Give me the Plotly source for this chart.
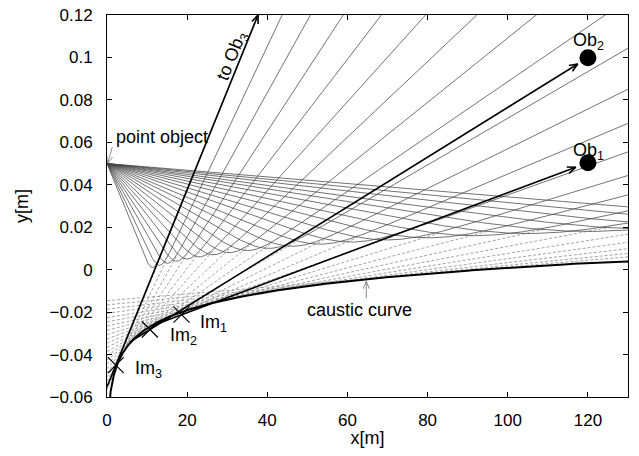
import numpy as np
import plotly.graph_objects as go

# ---------------- data ----------------
object_x, object_y = 0.0, 0.05                     # point object
# turning heights (lowest point) of the drawn rays [m]
ray_turn_heights = [0.001, 0.002, 0.003, 0.004, 0.005, 0.006, 0.007, 0.008,
                    0.009, 0.010, 0.011, 0.012, 0.013, 0.014, 0.015, 0.016,
                    0.017, 0.018, 0.019, 0.020, 0.021, 0.022]
# refraction layer model constants (fitted to the picture)
layer_h = 0.0031
layer_logA = -10.4

ob_names = ["Ob<sub>1</sub>", "Ob<sub>2</sub>"]
ob_x = [120.0, 120.0]
ob_y = [0.0504, 0.0999]
im_names = ["Im<sub>1</sub>", "Im<sub>2</sub>", "Im<sub>3</sub>"]
im_x = [18.6, 10.7, 2.2]
im_y = [-0.0212, -0.0282, -0.045]
ob3_top = (37.7, 0.12)

x_ticks = [0, 20, 40, 60, 80, 100, 120]
y_ticks = [-0.06, -0.04, -0.02, 0, 0.02, 0.04, 0.06, 0.08, 0.1, 0.12]

# ---------------- geometry helpers ----------------
XMIN, XMAX, YMIN, YMAX = 0, 130, -0.06, 0.12
PW, PH = 521, 382
PXX = PW / (XMAX - XMIN)
PXY = PH / (YMAX - YMIN)
A = np.exp(layer_logA)
LN2 = np.log(2.0)


def F(u):
    w = np.sqrt(1.0 - np.exp(-u))
    return u + 2.0 * np.log1p(w)


def head(tipx, tipy, fromx, fromy, L=9.0, ang=22.0):
    dx = (tipx - fromx) * PXX
    dy = (tipy - fromy) * PXY
    th = np.arctan2(dy, dx)
    xs, ys = [], []
    for sgn in (1, -1):
        a = th + np.pi + sgn * np.radians(ang)
        xs.append(tipx + L * np.cos(a) / PXX)
        ys.append(tipy + L * np.sin(a) / PXY)
    return [xs[0], tipx, xs[1]], [ys[0], tipy, ys[1]]


fig = go.Figure()

# ---------------- rays and their backward extensions ----------------
rx, ry, dxs, dys = [], [], [], []
t = np.linspace(0, 1, 300)
for ym in ray_turn_heights:
    s = np.sqrt(A) * np.exp(-ym / (2 * layer_h))
    U0 = (object_y - ym) / layer_h
    xt = layer_h / s * F(U0)
    ud = U0 * t ** 2
    xd = xt - layer_h / s * F(ud)
    yd = ym + layer_h * ud
    Um = (0.125 - ym) / layer_h
    ua = Um * t ** 2
    xa = xt + layer_h / s * F(ua)
    ya = ym + layer_h * ua
    x = np.concatenate([xd[::-1], xa[1:]])
    y = np.concatenate([yd[::-1], ya[1:]])
    keep = x <= 140
    rx += list(x[keep]) + [None]
    ry += list(y[keep]) + [None]
    b = ym - 2 * layer_h * LN2 - layer_h * F(U0)
    xe = min(xt + layer_h / s * (2 * LN2 + 1), 131)
    dxs += [0, xe, None]
    dys += [b, b + s * xe, None]

fig.add_trace(go.Scatter(x=dxs, y=dys, mode="lines",
                         line=dict(color="#8c8c8c", width=0.8, dash="3px,2px"),
                         hoverinfo="skip", showlegend=False))
fig.add_trace(go.Scatter(x=rx, y=ry, mode="lines",
                         line=dict(color="#444444", width=0.75),
                         hoverinfo="skip", showlegend=False))

# ---------------- caustic (envelope of the extensions) ----------------
c = np.linspace(-0.012, 0.028, 500)
sc = np.sqrt(A) * np.exp(-c / (2 * layer_h))
U0c = (object_y - c) / layer_h
w0 = np.sqrt(1 - np.exp(-U0c))
bc = c - 2 * layer_h * LN2 - layer_h * F(U0c)
xc = (1 + 1 / w0) * 2 * layer_h / sc
yc = bc + sc * xc
fig.add_trace(go.Scatter(x=xc, y=yc, mode="lines", line=dict(color="black", width=2),
                         hoverinfo="skip", showlegend=False))

# ---------------- lines to observers ----------------
def ob_line(ix, iy, ox, oy, back, gap_px):
    sl = (oy - iy) / (ox - ix)
    x0 = ix - back
    y0 = iy - back * sl
    dpx = np.hypot((ox - ix) * PXX, (oy - iy) * PXY)
    f = 1 - gap_px / dpx
    tx = ix + (ox - ix) * f
    ty = iy + (oy - iy) * f
    hx, hy = head(tx, ty, ix, iy)
    fig.add_trace(go.Scatter(x=[x0, tx, None] + hx, y=[y0, ty, None] + hy, mode="lines",
                             line=dict(color="black", width=1.6),
                             hoverinfo="skip", showlegend=False))

ob_line(im_x[0], im_y[0], ob_x[0], ob_y[0], 8, 13)
ob_line(im_x[1], im_y[1], ob_x[1], ob_y[1], 5, 12)
ob_line(im_x[2], im_y[2], ob3_top[0], ob3_top[1], im_x[2], 0)

# observer points
fig.add_trace(go.Scatter(x=ob_x, y=ob_y, mode="markers",
                         marker=dict(color="black", size=17),
                         hoverinfo="skip", showlegend=False))
# image crosses
fig.add_trace(go.Scatter(x=im_x, y=im_y, mode="markers",
                         marker=dict(symbol="x-thin", size=16, line=dict(color="black", width=1.2)),
                         hoverinfo="skip", showlegend=False))

# pointer arrows (point object, caustic curve)
px_from = (1.3, 0.0577)
hx, hy = head(object_x + 0.15, object_y, px_from[0], px_from[1], L=8)
fig.add_trace(go.Scatter(x=[px_from[0], object_x + 0.15, None] + hx,
                         y=[px_from[1], object_y, None] + hy, mode="lines",
                         line=dict(color="#707070", width=0.8), hoverinfo="skip", showlegend=False))
ca_x = 64.7
ca_tip = -0.0055
hx, hy = head(ca_x, ca_tip, ca_x, -0.0135, L=8)
fig.add_trace(go.Scatter(x=[ca_x, ca_x, None] + hx, y=[-0.0135, ca_tip, None] + hy, mode="lines",
                         line=dict(color="#707070", width=0.8), hoverinfo="skip", showlegend=False))

FONT = "Liberation Sans, Arial, sans-serif"
ann = []
ann.append(dict(x=1.75, y=0.0627, text="point object", xanchor="left", yanchor="middle"))
ann.append(dict(x=63.0, y=-0.0189, text="caustic curve", xanchor="center", yanchor="middle"))
ann.append(dict(x=31.3, y=0.1005, text="to Ob<sub>3</sub>", textangle=-68,
                xanchor="center", yanchor="middle"))
ann.append(dict(x=120.1, y=0.1075, text=ob_names[1], xanchor="center", yanchor="middle"))
ann.append(dict(x=120.1, y=0.0555, text=ob_names[0], xanchor="center", yanchor="middle"))
ann.append(dict(x=22.7, y=-0.0255, text=im_names[0], xanchor="left", yanchor="middle"))
ann.append(dict(x=15.2, y=-0.0316, text=im_names[1], xanchor="left", yanchor="middle"))
ann.append(dict(x=6.5, y=-0.0472, text=im_names[2], xanchor="left", yanchor="middle"))
for a in ann:
    a.update(xref="x", yref="y", showarrow=False, font=dict(family=FONT, size=18, color="black"))

axis_common = dict(showline=True, linecolor="black", linewidth=1, mirror="ticks",
                   ticks="inside", ticklen=5, tickcolor="black", showgrid=False,
                   zeroline=False, automargin=False, ticklabeloverflow="allow",
                   tickfont=dict(family=FONT, size=17, color="black"))

# the page body adds an 8 px offset; figure sized so the plot frame lands on the reference
fig.update_layout(
    width=623, height=440, autosize=False,
    margin=dict(l=99, r=3, t=7, b=51),
    paper_bgcolor="white", plot_bgcolor="white",
    annotations=ann,
    xaxis=dict(range=[XMIN, XMAX], tickvals=x_ticks, ticklabelstandoff=8,
               title=dict(text="x[m]", font=dict(family=FONT, size=18, color="black"), standoff=4),
               **axis_common),
    yaxis=dict(range=[YMIN, YMAX], tickvals=y_ticks, ticklabelstandoff=10,
               title=dict(text="y[m]", font=dict(family=FONT, size=18, color="black"), standoff=16),
               **axis_common),
)

fig.write_html("out.html")
